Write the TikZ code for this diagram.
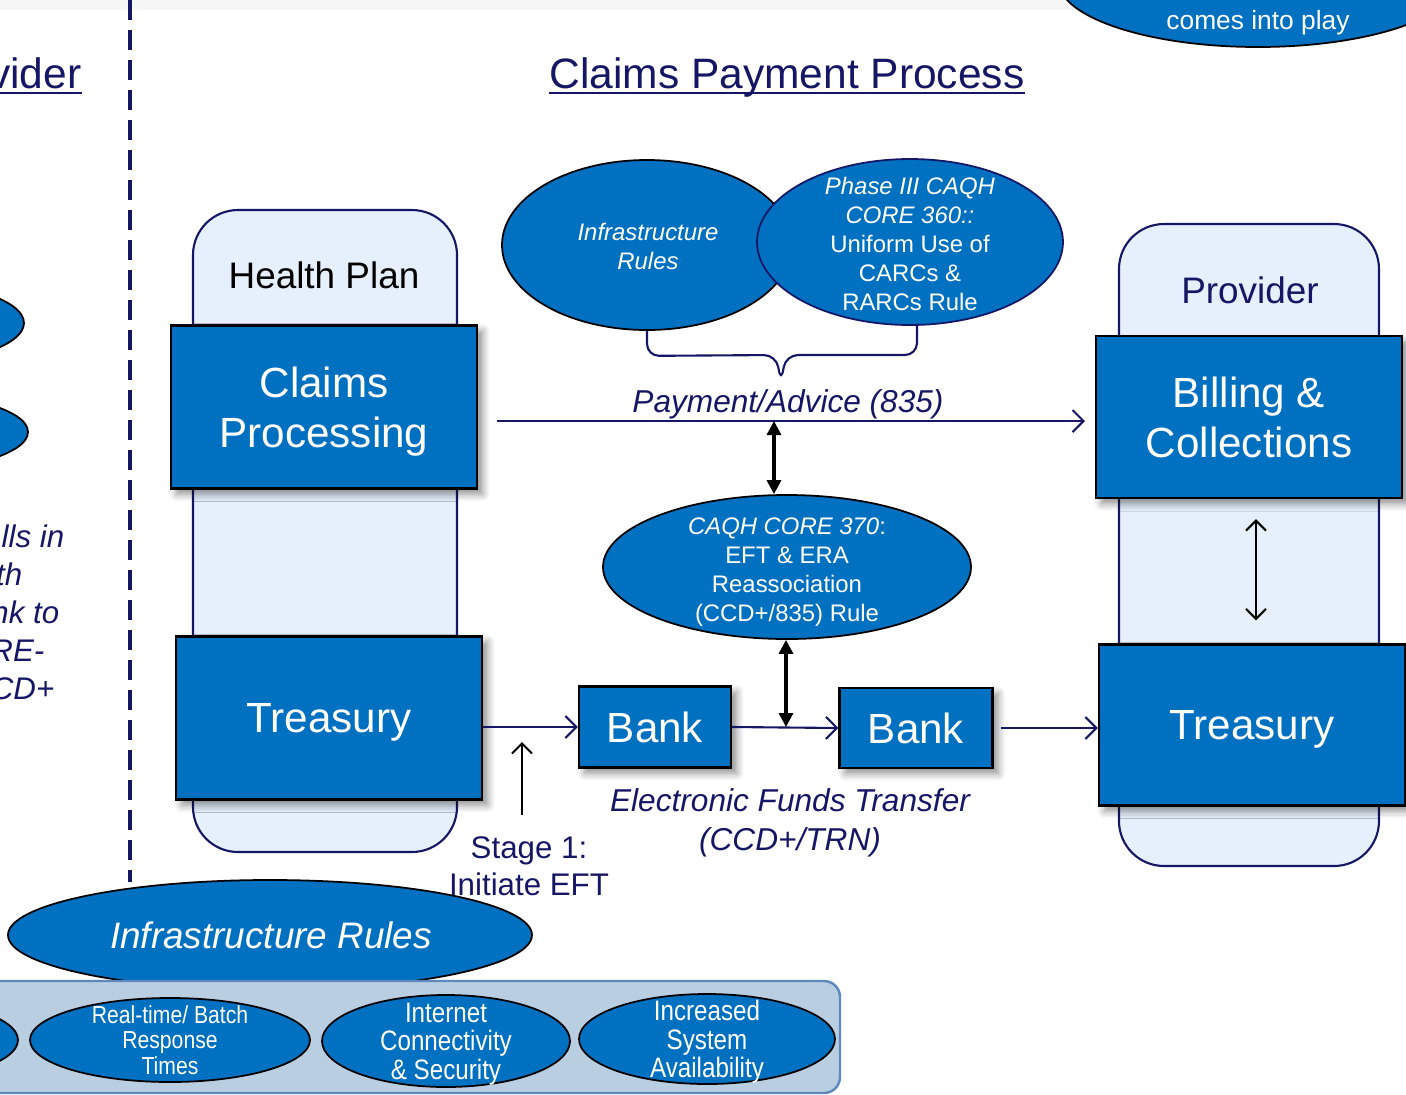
\documentclass[tikz,border=0pt]{standalone}
\usepackage{fontspec}
\setmainfont{Liberation Sans}
\newfontfamily\narrowfont[FakeStretch=0.86]{Liberation Sans}
\usetikzlibrary{shapes.geometric,arrows.meta,shadows.blur,positioning}

\definecolor{boxblue}{RGB}{0,112,192}
\definecolor{inkblue}{RGB}{22,22,102}
\definecolor{lanefill}{RGB}{229,240,252}
\definecolor{panelfill}{RGB}{186,206,226}
\definecolor{panelline}{RGB}{92,138,190}

\tikzset{
  stepbox/.style={draw=black, line width=0.6pt, fill=boxblue, text=white,
    align=center, inner sep=0pt, text depth=0pt, font=\fontsize{12}{14.2}\selectfont,
    blur shadow={shadow xshift=1.6pt, shadow yshift=-1.6pt, shadow blur steps=6, shadow opacity=45}},
  rulebubble/.style={ellipse, draw=black, line width=0.5pt, fill=boxblue, inner sep=0pt},
  bubbletext/.style={text=white, align=center, inner sep=0pt, font=\fontsize{6.8}{8.25}\selectfont},
  pointtext/.style={bubbletext, font=\narrowfont\fontsize{8}{8.1}\selectfont},
  lane/.style={draw=inkblue, line width=0.6pt, fill=lanefill, rounded corners=4.5mm},
  panel/.style={draw=panelline, line width=0.7pt, fill=panelfill, rounded corners=1.6mm},
  heading/.style={text=inkblue, inner sep=0pt, font=\fontsize{12.1}{14}\selectfont},
  lanehead/.style={text=inkblue, inner sep=0pt, font=\fontsize{10.5}{12}\selectfont},
  lbl/.style={text=inkblue, align=center, inner sep=0pt, font=\fontsize{9}{11.2}\selectfont\itshape},
  note/.style={lbl, font=\fontsize{8.9}{10.8}\selectfont\itshape},
  flow/.style={draw=inkblue, line width=0.6pt, -{Straight Barb[length=1.1mm,width=2.2mm,line width=0.6pt]}},
  link/.style={draw=black, line width=0.9pt, {Triangle[length=1.4mm,width=1.4mm]}-{Triangle[length=1.4mm,width=1.4mm]}},
  twoway/.style={draw=black, line width=0.6pt, {Straight Barb[length=1mm,width=2mm,line width=0.6pt]}-{Straight Barb[length=1mm,width=2mm,line width=0.6pt]}},
  pointer/.style={draw=black, line width=0.6pt, -{Straight Barb[length=1mm,width=2mm,line width=0.6pt]}}
}

\begin{document}
\begin{tikzpicture}[x=0.1mm, y=-0.1mm]
  \useasboundingbox (0,0) rectangle (1406,1095);
  \clip (0,0) rectangle (1406,1095);
  \fill[gray!6] (0,0) rectangle (1406,10);

  % what is left of the panel on the left
  \draw[inkblue, line width=1.1pt, dash pattern=on 2mm off 1mm] (130,0) -- (130,882);
  \node[heading, anchor=base east] (oldtitle) at (82,88) {Provider};
  \node[rulebubble, minimum width=28mm, minimum height=8.6mm] (leftbub1) at (-116,323) {};
  \node[rulebubble, minimum width=28mm, minimum height=8mm] (leftbub2) at (-112,432) {};
  \foreach \tx/\ty/\frag [count=\k] in {65/547/lls in, 23/585/th, 60/623/nk to, 45/661/RE-, 55/699/CD+}
    \node[note, anchor=base east] (frag\k) at (\tx,\ty) {\frag};

  \node[rulebubble, minimum width=40mm, minimum height=13.4mm] (playbub) at (1258,-20) {};
  \node[bubbletext, font=\fontsize{7.5}{9}\selectfont] (playtxt) at (1258,23) {comes into play};

  \node[heading, anchor=base] (title) at (787,88) {Claims Payment Process};
  \foreach \n in {title,oldtitle}
    \draw[inkblue, line width=0.6pt] ([yshift=-1.4pt]\n.base west) -- ([yshift=-1.4pt]\n.base east);

  % the two lanes
  \draw[lane] (193,210) rectangle (457,852);
  \draw[lane] (1119,224) rectangle (1379,866);
  \node[lanehead, text=black] (hplbl) at (324,275) {Health Plan};
  \node[lanehead] (provlbl) at (1250,290) {Provider};

  \node[stepbox, minimum width=30.6mm, minimum height=16.3mm] (claims) at (324,407) {Claims\\Processing};
  \node[stepbox, minimum width=30.6mm, minimum height=16.3mm] (hptreas) at (329,718) {Treasury};
  \node[stepbox, minimum width=30.6mm, minimum height=16.2mm] (billing) at (1249,417) {Billing \&\\Collections};
  \node[stepbox, minimum width=30.6mm, minimum height=16.1mm] (provtreas) at (1252,725) {Treasury};
  \node[stepbox, minimum width=15.2mm, minimum height=8.1mm] (bank1) at (655,727) {Bank};
  \node[stepbox, minimum width=15.3mm, minimum height=8mm] (bank2) at (916,728) {Bank};

  % payment / advice
  \coordinate (payfrom) at (497,421);
  \coordinate (payto) at (1085,421);
  \draw[flow] (payfrom) -- (payto);
  \node[lbl, anchor=base] (paylbl) at (788,412) {Payment/Advice (835)};

  % funds
  \draw[flow] (hptreas.east |- bank1.west) -- (bank1.west);
  \draw[flow] (bank1.east) -- (bank2.west);
  \draw[flow] ([xshift=0.7mm]bank2.east) -- (bank2.east -| provtreas.west);
  \node[lbl] (eftlbl) at (790,823) {Electronic Funds Transfer\\(CCD+/TRN)};
  \draw[twoway] ([xshift=0.7mm,yshift=-2mm]billing.south) -- ([xshift=0.4mm,yshift=2.3mm]provtreas.north);

  \coordinate (stagefoot) at (522,815);
  \coordinate (stagetip) at (522,742);
  \draw[pointer] (stagefoot) -- (stagetip);
  \node[lbl, font=\fontsize{8.9}{10.6}\selectfont] (stage) at (529,866) {Stage 1:\\Initiate EFT};

  % rules
  \node[rulebubble, minimum width=29mm, minimum height=17mm] (infra) at (647,245) {};
  \node[bubbletext, font=\fontsize{6.8}{8.25}\selectfont\itshape] (infratxt) at (648,246) {Infrastructure\\Rules};
  \node[rulebubble, draw=inkblue, minimum width=30.6mm, minimum height=16.6mm] (phase) at (910,242) {};
  \node[bubbletext] (phasetxt) at (910,244)
    {\textit{Phase III CAQH}\\\textit{CORE 360::}\\Uniform Use of\\CARCs \&\\RARCs Rule};
  \draw[inkblue, line width=0.6pt, rounded corners=1.2mm] (infra.south) -- ++(0,25) -- (776,355)
    -- (781,382) -- (786,355) -- (917,355) -- ([xshift=0.7mm]phase.south);

  \node[rulebubble, minimum width=36.8mm, minimum height=14.4mm] (core370) at (787,567) {};
  \node[bubbletext] (coretxt) at (787,572)
    {\textit{CAQH CORE 370}:\\EFT \& ERA\\Reassociation\\(CCD+/835) Rule};
  \coordinate (paytap) at (774,421);
  \coordinate (banktap) at (786,727);
  \draw[link] (paytap) -- (paytap |- core370.north);
  \draw[link] (banktap |- core370.south) -- (banktap);

  % infrastructure strip
  \node[rulebubble, minimum width=52.4mm, minimum height=11mm] (infrabig) at (270,935) {};
  \node[bubbletext, font=\fontsize{10.5}{12}\selectfont\itshape] (infrabigtxt) at (271,935) {Infrastructure Rules};
  \draw[panel] (-30,981) rectangle (840,1093);
  \node[rulebubble, minimum width=27.6mm, minimum height=8.4mm] (cutbub) at (-120,1040) {};
  \node[rulebubble, minimum width=28mm, minimum height=8.4mm] (realtime) at (170,1040) {};
  \node[rulebubble, minimum width=24.8mm, minimum height=9.2mm] (netsec) at (446,1041) {};
  \node[rulebubble, minimum width=25.6mm, minimum height=9mm] (sysavail) at (707,1039) {};
  \node[pointtext, font=\narrowfont\fontsize{7}{7.2}\selectfont] (realtimetxt) at (170,1040) {Real-time/ Batch\\Response\\Times};
  \node[pointtext] (netsectxt) at (446,1044) {Internet\\Connectivity\\\& Security};
  \node[pointtext] (sysavailtxt) at (707,1042) {Increased\\System\\Availability};
\end{tikzpicture}
\end{document}
